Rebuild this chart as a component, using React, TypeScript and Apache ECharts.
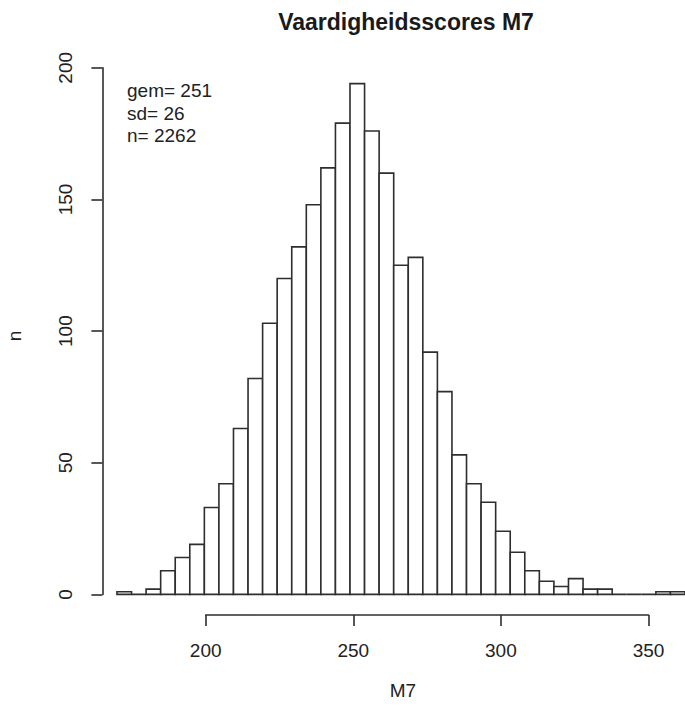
import React, { useEffect, useRef } from "react";
import * as echarts from "echarts";

// Histogram of M7 skill scores, bins of width 5
const binStarts = [
  170, 175, 180, 185, 190, 195, 200, 205, 210, 215, 220, 225, 230, 235, 240,
  245, 250, 255, 260, 265, 270, 275, 280, 285, 290, 295, 300, 305, 310, 315,
  320, 325, 330, 335, 340, 345, 350, 355, 360,
];
const counts = [
  1, 0, 2, 9, 14, 19, 33, 42, 63, 82, 103, 120, 132, 148, 162,
  179, 194, 176, 160, 125, 128, 92, 77, 53, 42, 35, 24, 16, 9, 5,
  3, 6, 2, 2, 0, 0, 0, 1, 1,
];
const binWidth = 5;
const xTicks = [200, 250, 300, 350];
const yTicks = [0, 50, 100, 150, 200];
const statLines = ["gem= 251", "sd= 26", "n= 2262"];

const INK = "#2e2e2e";
const FONT = "'Liberation Sans', Arial, sans-serif";

export default function App() {
  const ref = useRef<HTMLDivElement>(null);

  useEffect(() => {
    if (!ref.current) return;
    const chart = echarts.init(ref.current, undefined, { renderer: "svg" });

    const data = binStarts.map((b, i) => [b, counts[i]]);

    chart.setOption({
      animation: false,
      backgroundColor: "#ffffff",
      textStyle: { fontFamily: FONT },
      title: {
        text: "Vaardigheidsscores M7",
        left: 401,
        top: 5,
        textAlign: "center",
        textStyle: {
          fontFamily: FONT,
          fontWeight: "bold",
          fontSize: 23,
          color: "#1a1a1a",
        },
      },
      grid: [
        // plotting region for the bars
        { left: 102.4, right: -7.8, top: 67.8, bottom: 114.6 },
        // detached x axis drawn below the bars
        { left: 205.7, width: 442.8, top: 600, bottom: 94 },
      ],
      xAxis: [
        {
          type: "value",
          gridIndex: 0,
          min: 165,
          max: 365,
          show: false,
        },
        {
          type: "value",
          gridIndex: 1,
          min: xTicks[0],
          max: xTicks[xTicks.length - 1],
          interval: 50,
          axisLine: { show: true, lineStyle: { color: INK, width: 1.6 } },
          axisTick: {
            show: true,
            length: 11,
            lineStyle: { color: INK, width: 1.6 },
          },
          axisLabel: {
            fontSize: 19,
            color: "#222",
            margin: 26,
            fontFamily: FONT,
          },
          splitLine: { show: false },
        },
      ],
      yAxis: [
        {
          type: "value",
          gridIndex: 0,
          min: yTicks[0],
          max: yTicks[yTicks.length - 1],
          interval: 50,
          axisLine: { show: true, lineStyle: { color: INK, width: 1.6 } },
          axisTick: {
            show: true,
            length: 11,
            lineStyle: { color: INK, width: 1.6 },
          },
          axisLabel: {
            fontSize: 19,
            color: "#222",
            rotate: 90,
            margin: 27,
            fontFamily: FONT,
          },
          splitLine: { show: false },
        },
        {
          type: "value",
          gridIndex: 1,
          show: false,
        },
      ],
      series: [
        {
          type: "custom",
          xAxisIndex: 0,
          yAxisIndex: 0,
          data,
          renderItem: (params: any, api: any) => {
            const x0 = api.value(0);
            const n = api.value(1);
            const topLeft = api.coord([x0, n]);
            const bottomRight = api.coord([x0 + binWidth, 0]);
            return {
              type: "rect",
              shape: {
                x: topLeft[0],
                y: topLeft[1],
                width: bottomRight[0] - topLeft[0],
                height: bottomRight[1] - topLeft[1],
              },
              style: { fill: "#ffffff", stroke: INK, lineWidth: 1.6 },
            };
          },
        },
      ],
      graphic: [
        {
          type: "text",
          left: 127,
          top: 79,
          style: {
            text: statLines.join("\n"),
            fontSize: 19,
            lineHeight: 22.7,
            fontFamily: FONT,
            fill: "#222",
          },
        },
        {
          type: "text",
          x: 403,
          y: 690,
          style: {
            text: "M7",
            fontSize: 19,
            fontFamily: FONT,
            fill: "#222",
            align: "center",
            verticalAlign: "middle",
          },
        },
        {
          type: "text",
          x: 14,
          y: 336,
          rotation: Math.PI / 2,
          style: {
            text: "n",
            fontSize: 19,
            fontFamily: FONT,
            fill: "#222",
            align: "center",
            verticalAlign: "middle",
          },
        },
      ],
    });

    return () => chart.dispose();
  }, []);

  return (
    <div
      ref={ref}
      style={{
        position: "absolute",
        left: 0,
        top: 0,
        width: 685,
        height: 709,
        background: "#fff",
      }}
    />
  );
}
